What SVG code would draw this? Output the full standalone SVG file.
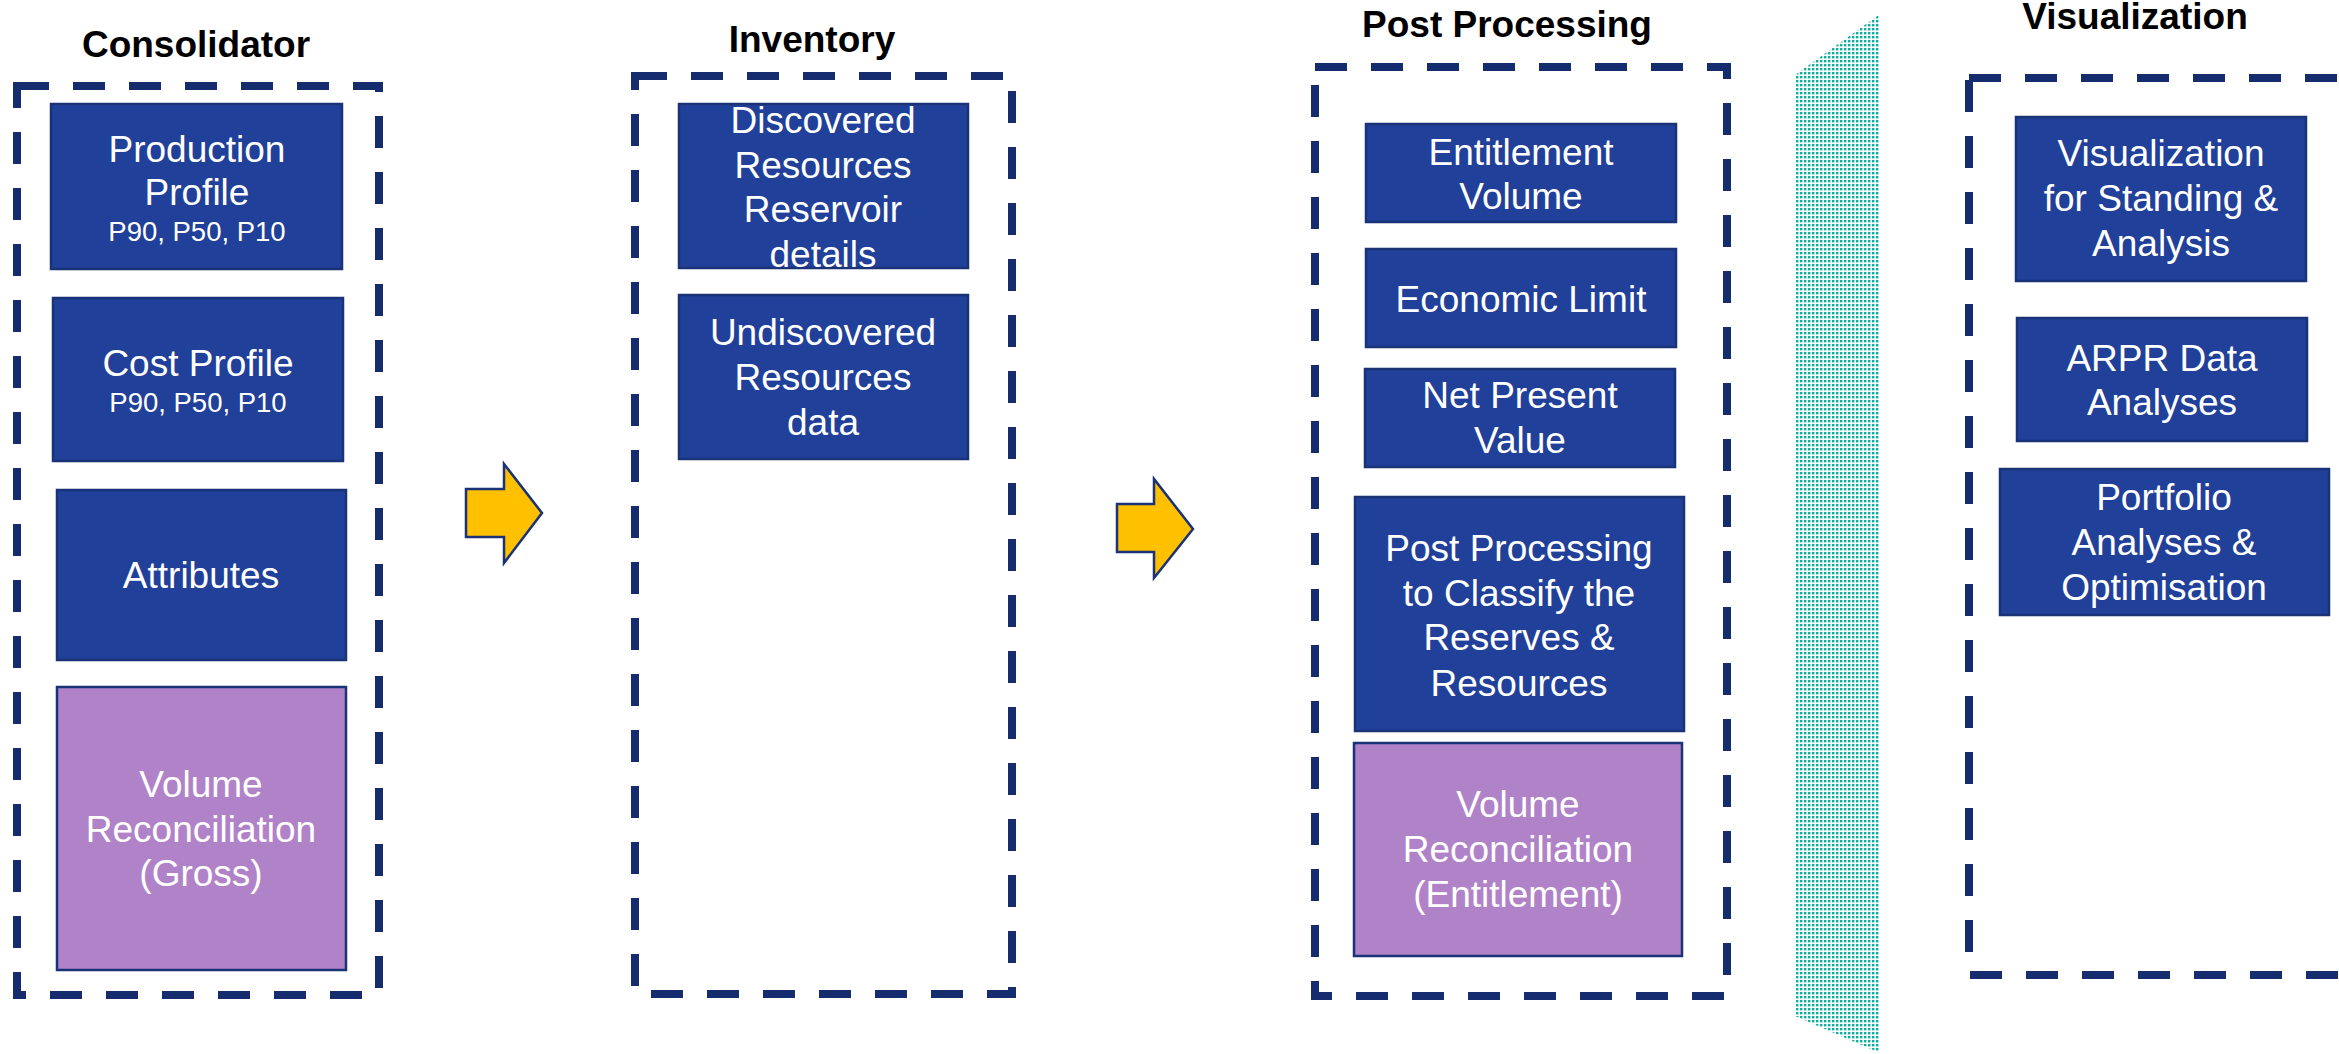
<svg xmlns="http://www.w3.org/2000/svg" width="2339" height="1054" viewBox="0 0 2339 1054">
<defs>
<pattern id="dots" x="0" y="0" width="4" height="4" patternUnits="userSpaceOnUse">
<rect x="0" y="0" width="2.4" height="2.4" fill="#0FAE9F"/>
</pattern>
<style>
.container{fill:none;stroke:#152C6E;stroke-width:8;stroke-dasharray:32 24;}
.box{fill:#21409A;stroke:#1A3276;stroke-width:2.5;}
.pbox{fill:#B083C9;stroke:#1A3276;stroke-width:2.5;}
.title{font-family:"Liberation Sans",Arial,sans-serif;font-weight:bold;font-size:37px;fill:#000;text-anchor:middle;}
.lbl{font-family:"Liberation Sans",Arial,sans-serif;font-size:37px;fill:#FFFFFF;text-anchor:middle;}
.sm{font-size:27.5px;}
.arrow{fill:#FFC000;stroke:#1A3276;stroke-width:2.5;stroke-linejoin:miter;}
</style>
</defs>
<rect width="2339" height="1054" fill="#FFFFFF"/>

<!-- dotted band -->
<polygon points="1795,75 1880,14 1880,1053 1795,1016" fill="url(#dots)"/>

<!-- containers -->
<g id="consolidator">
<text class="title" x="196" y="57">Consolidator</text>
<rect class="container" x="17" y="86" width="362" height="909"/>
</g>
<g id="inventory">
<text class="title" x="812" y="52">Inventory</text>
<rect class="container" x="635" y="76" width="377" height="918"/>
</g>
<g id="post-processing">
<text class="title" x="1507" y="37">Post Processing</text>
<rect class="container" x="1315" y="67" width="412" height="929"/>
</g>
<g id="visualization">
<text class="title" x="2135" y="29">Visualization</text>
<rect class="container" x="1969" y="78" width="520" height="897"/>
</g>

<!-- Consolidator nodes -->
<g id="production-profile">
<rect class="box" x="51" y="104" width="291" height="165"/>
<text class="lbl" x="197" y="162">Production</text>
<text class="lbl" x="197" y="205">Profile</text>
<text class="lbl sm" x="197" y="241">P90, P50, P10</text>
</g>
<g id="cost-profile">
<rect class="box" x="53" y="298" width="290" height="163"/>
<text class="lbl" x="198" y="376">Cost Profile</text>
<text class="lbl sm" x="198" y="412">P90, P50, P10</text>
</g>
<g id="attributes">
<rect class="box" x="57" y="490" width="289" height="170"/>
<text class="lbl" x="201" y="588">Attributes</text>
</g>
<g id="volume-recon-gross">
<rect class="pbox" x="57" y="687" width="289" height="283"/>
<text class="lbl" x="201" y="797">Volume</text>
<text class="lbl" x="201" y="842">Reconciliation</text>
<text class="lbl" x="201" y="886">(Gross)</text>
</g>

<!-- Inventory nodes -->
<g id="discovered-resources">
<rect class="box" x="679" y="104" width="289" height="164"/>
<text class="lbl" x="823" y="133">Discovered</text>
<text class="lbl" x="823" y="178">Resources</text>
<text class="lbl" x="823" y="222">Reservoir</text>
<text class="lbl" x="823" y="267">details</text>
</g>
<g id="undiscovered-resources">
<rect class="box" x="679" y="295" width="289" height="164"/>
<text class="lbl" x="823" y="345">Undiscovered</text>
<text class="lbl" x="823" y="390">Resources</text>
<text class="lbl" x="823" y="435">data</text>
</g>

<!-- Post Processing nodes -->
<g id="entitlement-volume">
<rect class="box" x="1366" y="124" width="310" height="98"/>
<text class="lbl" x="1521" y="165">Entitlement</text>
<text class="lbl" x="1521" y="209">Volume</text>
</g>
<g id="economic-limit">
<rect class="box" x="1366" y="249" width="310" height="98"/>
<text class="lbl" x="1521" y="312">Economic Limit</text>
</g>
<g id="net-present-value">
<rect class="box" x="1365" y="369" width="310" height="98"/>
<text class="lbl" x="1520" y="408">Net Present</text>
<text class="lbl" x="1520" y="453">Value</text>
</g>
<g id="post-processing-classify">
<rect class="box" x="1355" y="497" width="329" height="234"/>
<text class="lbl" x="1519" y="561">Post Processing</text>
<text class="lbl" x="1519" y="606">to Classify the</text>
<text class="lbl" x="1519" y="650">Reserves &amp;</text>
<text class="lbl" x="1519" y="696">Resources</text>
</g>
<g id="volume-recon-entitlement">
<rect class="pbox" x="1354" y="743" width="328" height="213"/>
<text class="lbl" x="1518" y="817">Volume</text>
<text class="lbl" x="1518" y="862">Reconciliation</text>
<text class="lbl" x="1518" y="907">(Entitlement)</text>
</g>

<!-- Visualization nodes -->
<g id="visualization-standing">
<rect class="box" x="2016" y="117" width="290" height="164"/>
<text class="lbl" x="2161" y="166">Visualization</text>
<text class="lbl" x="2161" y="211">for Standing &amp;</text>
<text class="lbl" x="2161" y="256">Analysis</text>
</g>
<g id="arpr-data-analyses">
<rect class="box" x="2017" y="318" width="290" height="123"/>
<text class="lbl" x="2162" y="371">ARPR Data</text>
<text class="lbl" x="2162" y="415">Analyses</text>
</g>
<g id="portfolio-analyses">
<rect class="box" x="2000" y="469" width="329" height="146"/>
<text class="lbl" x="2164" y="510">Portfolio</text>
<text class="lbl" x="2164" y="555">Analyses &amp;</text>
<text class="lbl" x="2164" y="600">Optimisation</text>
</g>

<!-- connectors -->
<g id="connectors">
<path class="arrow" d="M466,489 H504 V464 L542,513 L504,563 V537 H466 Z"/>
<path class="arrow" d="M1117,504 H1154 V479 L1193,529 L1154,578 V552 H1117 Z"/>
</g>
</svg>
